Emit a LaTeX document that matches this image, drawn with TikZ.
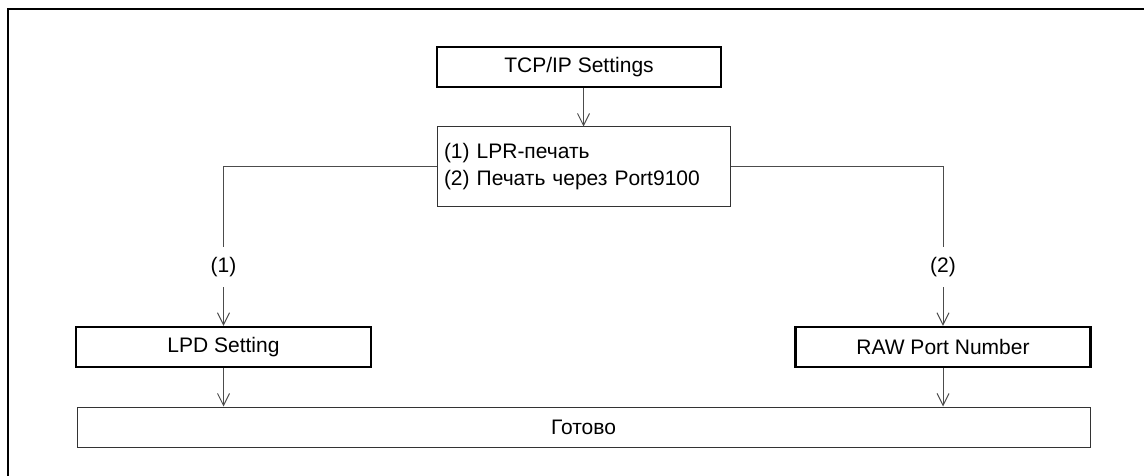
\documentclass[tikz,border=0pt]{standalone}
\usepackage{fontspec}
\setmainfont{Liberation Sans}
\usetikzlibrary{arrows.meta}
\begin{document}
\begin{tikzpicture}[x=1pt,y=-1pt,
  every node/.style={font=\fontsize{21}{27}\selectfont, inner sep=0pt},
  mainbox/.style={draw=black, line width=2.4pt, rectangle, minimum height=40pt},
  thinbox/.style={draw=black!80, line width=1pt, rectangle},
  conn/.style={draw=black!70, line width=1pt},
  arr/.style={conn, -{Straight Barb[length=12pt,width=12pt,line width=1pt]}},
  lbl/.style={minimum height=40pt}
]
\useasboundingbox (0,0) rectangle (1144,476);
% frame (top and left only)
\draw[line width=2.4pt, black] (8,476) -- (8,9) -- (1144,9);

\node[mainbox, minimum width=284pt] (tcp) at (579,67) {TCP/IP Settings};
\node[thinbox, minimum width=293pt, minimum height=80pt, align=left, text width=279pt] (mid) at (583.5,167)
  {(1) LPR-печать\\(2) Печать через Port9100};
\node[mainbox, minimum width=295pt] (lpd) at (223.5,347) {LPD Setting};
\node[mainbox, minimum width=295pt] (raw) at (943,347) {RAW Port Number};
\node[thinbox, minimum width=1013pt, minimum height=40pt] (done) at (583.5,427) {Готово};

\node[lbl] (l1) at (223.5,267) {(1)};
\node[lbl] (l2) at (943,267) {(2)};

\draw[arr] (mid.north |- tcp.south) -- (mid.north);
\draw[conn] (mid.west) -| (l1.north);
\draw[arr] (l1.south) -- (lpd.north);
\draw[conn] (mid.east) -| (l2.north);
\draw[arr] (l2.south) -- (raw.north);
\draw[arr] (lpd.south) -- (lpd.south |- done.north);
\draw[arr] (raw.south) -- (raw.south |- done.north);
\end{tikzpicture}
\end{document}
